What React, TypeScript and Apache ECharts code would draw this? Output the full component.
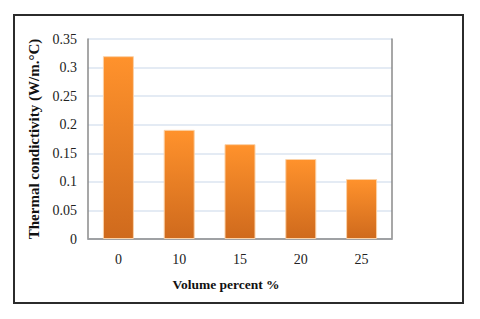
import React, { useEffect, useRef } from "react";
import * as echarts from "echarts";

const categories = ["0", "10", "15", "20", "25"];
const values = [0.32, 0.191, 0.166, 0.14, 0.105];
const xTitle = "Volume percent %";
const yTitle = "Thermal condictivity (W/m.°C)";

export default function App() {
  const ref = useRef<HTMLDivElement>(null);
  useEffect(() => {
    const chart = echarts.init(ref.current!, null, { renderer: "svg" });
    const font = "Liberation Serif";
    chart.setOption({
      animation: false,
      backgroundColor: "#ffffff",
      textStyle: { fontFamily: font },
      graphic: [
        {
          type: "rect",
          shape: { x: 14, y: 15, width: 449, height: 288 },
          style: { fill: "none", stroke: "#2b2b2b", lineWidth: 2 },
        },
      ],
      grid: { left: 88, top: 39, right: 88, bottom: 80 },
      xAxis: [
        {
          type: "category",
          data: categories,
          name: xTitle,
          nameLocation: "middle",
          nameGap: 38,
          nameTextStyle: {
            fontFamily: font,
            fontWeight: "bold",
            fontSize: 13.5,
            color: "#111",
            padding: [0, 28, 0, 0],
          },
          axisLine: { show: true, lineStyle: { color: "#dbe4f0", width: 1.5 } },
          axisTick: { show: false },
          axisLabel: { fontFamily: font, fontSize: 14, color: "#222", margin: 13 },
        },
        {
          type: "category",
          data: categories,
          position: "top",
          axisLine: { show: true, lineStyle: { color: "#8a8a8a", width: 1.5 } },
          axisTick: { show: false },
          axisLabel: { show: false },
        },
      ],
      yAxis: [
        {
          type: "value",
          min: 0,
          max: 0.35,
          interval: 0.05,
          name: yTitle,
          nameLocation: "middle",
          nameGap: 43,
          nameTextStyle: { fontFamily: font, fontWeight: "bold", fontSize: 15, color: "#111" },
          axisLine: { show: true, lineStyle: { color: "#8a8a8a", width: 1.5 } },
          axisTick: { show: false },
          axisLabel: {
            fontFamily: font,
            fontSize: 14,
            color: "#222",
            margin: 11,
            formatter: (v: number) => String(parseFloat(v.toFixed(2))),
          },
          splitLine: { show: true, lineStyle: { color: "#dbe4f0", width: 1.5 } },
        },
        {
          type: "value",
          min: 0,
          max: 0.35,
          interval: 0.05,
          position: "right",
          axisLine: { show: true, lineStyle: { color: "#8a8a8a", width: 1.5 } },
          axisTick: { show: false },
          axisLabel: { show: false },
          splitLine: { show: false },
        },
      ],
      series: [
        {
          type: "bar",
          data: values,
          barWidth: "51%",
          itemStyle: {
            color: new echarts.graphic.LinearGradient(0, 0, 0, 1, [
              { offset: 0, color: "#ff922c" },
              { offset: 1, color: "#cf6a1d" },
            ]),
            borderColor: "#fbd2a8",
            borderWidth: 1,
          },
        },
      ],
    });
    return () => chart.dispose();
  }, []);
  return (
    <div
      ref={ref}
      style={{ position: "fixed", left: 0, top: 0, width: 480, height: 319 }}
    />
  );
}
